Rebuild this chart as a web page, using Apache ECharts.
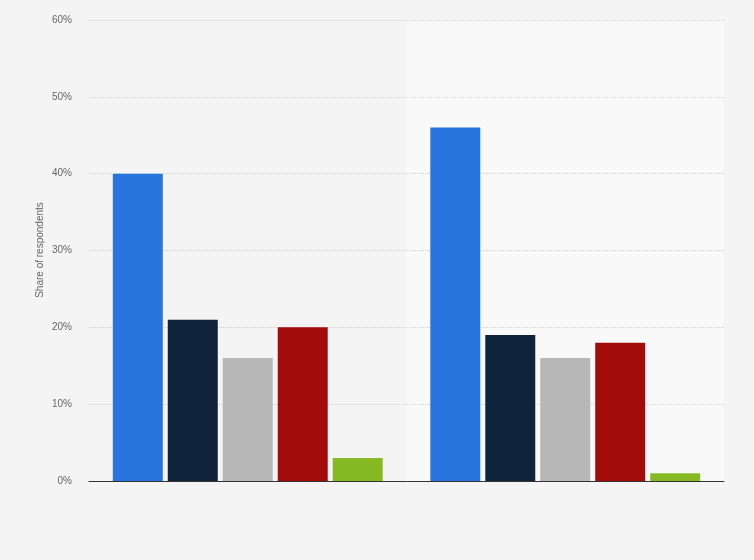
<!DOCTYPE html>
<html>
<head>
<meta charset="utf-8">
<script src="https://cdn.jsdelivr.net/npm/echarts@6/dist/echarts.min.js"></script>
<style>
html,body{margin:0;padding:0;background:#f4f4f4;}
#chart{width:754px;height:560px;}
</style>
</head>
<body>
<div id="chart"></div>
<script>
var categories = ['Group 1', 'Group 2'];
var seriesNames = ['Answer 1', 'Answer 2', 'Answer 3', 'Answer 4', 'Answer 5'];
var seriesColors = ['#2876dd', '#0f243a', '#b7b7b7', '#a30a0a', '#86ba24'];
var values1 = [40, 46];
var values2 = [21, 19];
var values3 = [16, 16];
var values4 = [20, 18];
var values5 = [3, 1];
var allValues = [values1, values2, values3, values4, values5];
var yTitle = 'Share of respondents';

var chart = echarts.init(document.getElementById('chart'));
var series = allValues.map(function (vals, i) {
  return {
    name: seriesNames[i],
    type: 'bar',
    data: vals,
    barGap: '10%',
    barCategoryGap: '15%',
    itemStyle: { color: seriesColors[i] }
  };
});
chart.setOption({
  backgroundColor: '#f4f4f4',
  animation: false,
  grid: { left: 89, right: 30, top: 20, bottom: 79, containLabel: false },
  graphic: [{
    type: 'text',
    x: 40,
    y: 250,
    rotation: Math.PI / 2,
    style: {
      text: yTitle,
      fill: '#666',
      fontSize: 10,
      fontFamily: 'Arial, Liberation Sans, sans-serif',
      align: 'center',
      verticalAlign: 'middle'
    }
  }],
  xAxis: [{
    type: 'category',
    data: categories,
    z: 2,
    axisLine: { show: true, lineStyle: { color: '#333', width: 1 } },
    axisTick: { show: false },
    axisLabel: { show: false },
    splitArea: { show: false }
  }, {
    type: 'category',
    data: categories,
    position: 'bottom',
    z: 0,
    axisLine: { show: false },
    axisTick: { show: false },
    axisLabel: { show: false },
    splitLine: { show: false },
    splitArea: { show: true, areaStyle: { color: ['rgba(0,0,0,0)', '#f9f9f9'] } }
  }],
  yAxis: {
    type: 'value',
    min: 0,
    max: 60,
    interval: 10,
    z: 1,
    axisLine: { show: false },
    axisTick: { show: false },
    axisLabel: { formatter: '{value}%', color: '#666', fontSize: 10, margin: 17, fontFamily: 'Arial, Liberation Sans, sans-serif' },
    splitLine: { lineStyle: { color: '#cfcfcf', type: 'dotted', width: 1 } }
  },
  series: series
});
</script>
</body>
</html>
